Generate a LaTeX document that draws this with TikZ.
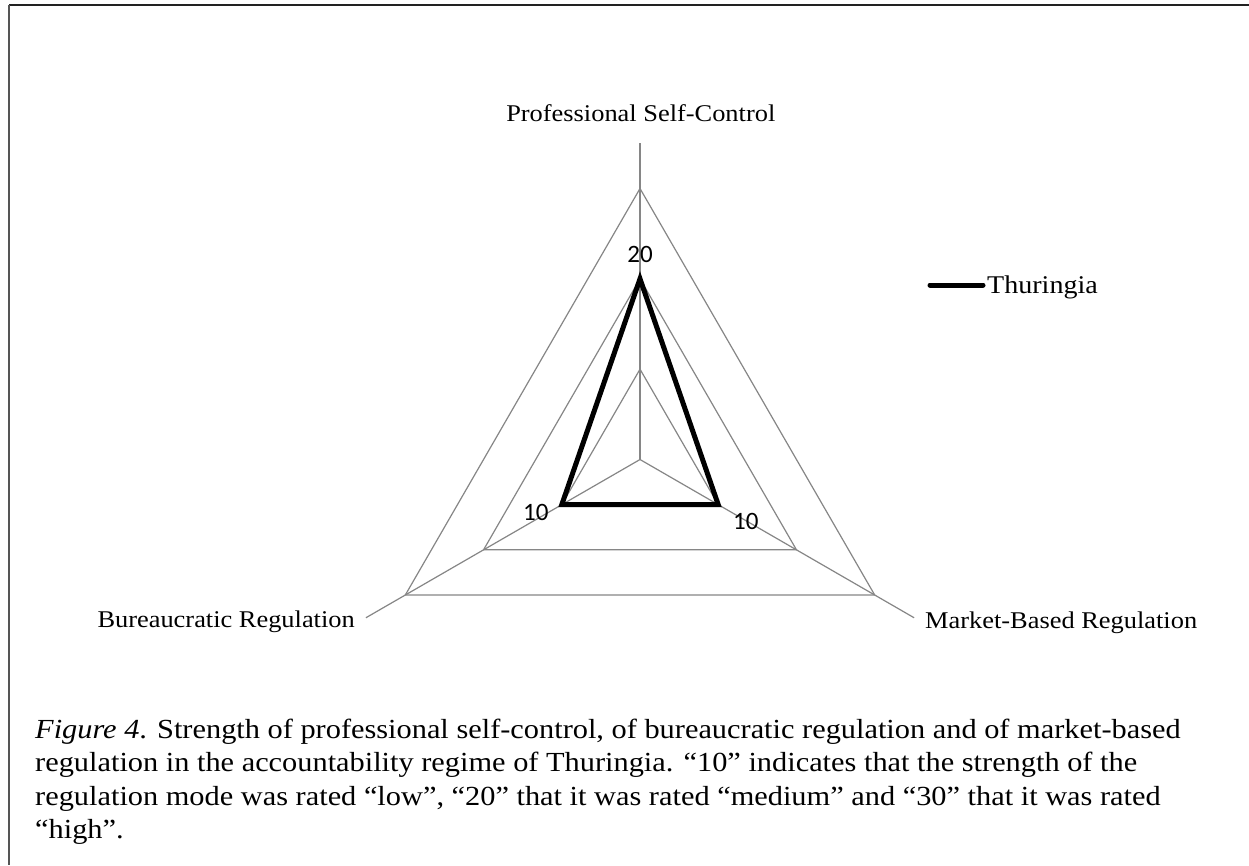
\documentclass[tikz,border=0pt]{standalone}
\usepackage{fontspec}
\setmainfont{Liberation Serif}[FakeStretch=1.1]
\newfontfamily\numfont{Carlito}
\definecolor{gridgray}{RGB}{134,134,134}
\definecolor{framecol}{RGB}{34,34,34}
\definecolor{framecolb}{RGB}{85,85,85}
\begin{document}
\begin{tikzpicture}[x=1pt,y=-1pt,
  grid/.style={draw=gridgray,line width=1.2pt},
  series/.style={draw=black,line width=5pt,line join=miter},
  axlabel/.style={font=\fontsize{24}{28}\selectfont,inner sep=0pt,anchor=base},
  numlabel/.style={font=\numfont\fontsize{25}{29}\selectfont,inner sep=0pt,anchor=base},
  captext/.style={font=\fontsize{27.6}{33.3}\selectfont,inner sep=0pt,anchor=base west}]
\useasboundingbox (0,0) rectangle (1249,865);
\fill[white] (0,0) rectangle (1249,865);
% frame
\coordinate (frameTL) at (9,5);
\coordinate (frameTR) at (1249,5);
\coordinate (frameBL) at (9,865);
\draw[framecol,line width=1.5pt] (frameTR) -- (frameTL);
\draw[framecolb,line width=2pt] (frameTL) -- (frameBL);
% radar chart
\begin{scope}[shift={(640,459.5)}]
  \coordinate (C) at (0,0);
  \coordinate (axP) at (-90:316.5);
  \coordinate (axM) at (30:316.5);
  \coordinate (axB) at (150:316.5);
  \foreach \r/\n in {90.33/a,180.67/b,271/c} {
    \coordinate (P\n) at (-90:\r);
    \coordinate (M\n) at (30:\r);
    \coordinate (B\n) at (150:\r);
    \draw[grid] (P\n) -- (M\n) -- (B\n) -- cycle;
  }
  \draw[grid] (C) -- (axP);
  \draw[grid] (C) -- (axM);
  \draw[grid] (C) -- (axB);
  \draw[series] (Pb) -- (Ma) -- (Ba) -- cycle;
\end{scope}
% axis labels
\node[axlabel] (lblP) at (640.8,121.7) {Professional Self-Control};
\node[axlabel,anchor=base east] (lblB) at (355,627.3) {Bureaucratic Regulation};
\node[axlabel,anchor=base west] (lblM) at (925,628) {Market-Based Regulation};
% data labels
\node[numlabel] (v20) at (640,262.7) {20};
\node[numlabel] (v10b) at (535.8,520.7) {10};
\node[numlabel] (v10m) at (745.8,529.3) {10};
% legend
\coordinate (legA) at (930,285);
\coordinate (legB) at (983,285);
\draw[series,line cap=round] (legA) -- (legB);
\node[axlabel,anchor=base west,font=\fontsize{25.5}{30}\selectfont] (legT) at (987,293.3) {Thuringia};
% caption
\node[captext] (cap1) at (35,738.3) {\textit{Figure 4}. Strength of professional self-control, of bureaucratic regulation and of market-based};
\node[captext] (cap2) at (35,771.7) {regulation in the accountability regime of Thuringia. “10” indicates that the strength of the};
\node[captext] (cap3) at (35,805) {regulation mode was rated “low”, “20” that it was rated “medium” and “30” that it was rated};
\node[captext] (cap4) at (35,838.3) {“high”.};
\end{tikzpicture}
\end{document}
